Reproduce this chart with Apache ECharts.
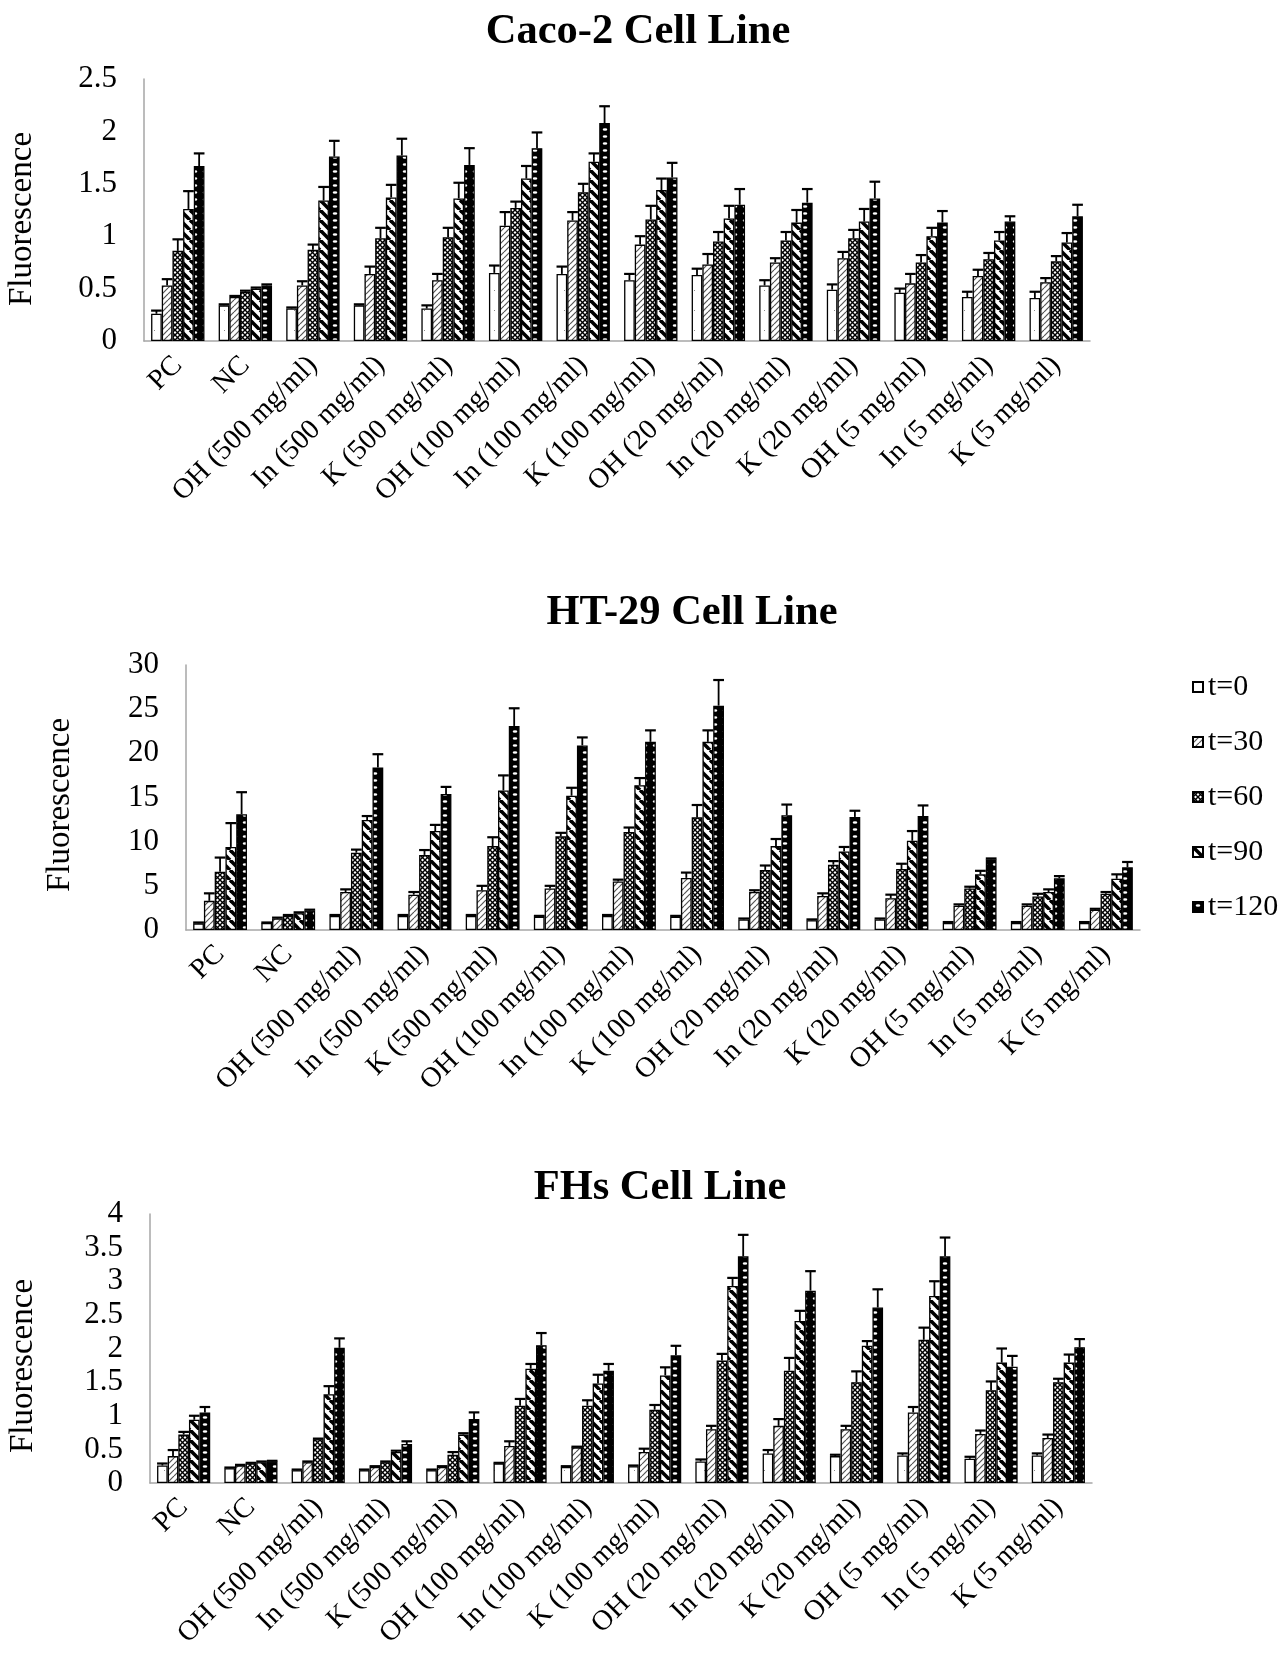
<!DOCTYPE html>
<html>
<head>
<meta charset="utf-8">
<script src="https://cdn.jsdelivr.net/npm/echarts@6/dist/echarts.min.js"></script>
<style>
  html, body { margin: 0; padding: 0; background: #fff; }
  #main { width: 1287px; height: 1656px; }
</style>
</head>
<body>
<div id="main"></div>
<script>
var categories = ['PC', 'NC', 'OH (500 mg/ml)', 'In (500 mg/ml)', 'K (500 mg/ml)', 'OH (100 mg/ml)',
    'In (100 mg/ml)', 'K (100 mg/ml)', 'OH (20 mg/ml)', 'In (20 mg/ml)', 'K (20 mg/ml)',
    'OH (5 mg/ml)', 'In (5 mg/ml)', 'K (5 mg/ml)'];
var times = ['t=0', 't=30', 't=60', 't=90', 't=120'];

// Caco-2: one row per time point
var cacoMean = [
    [0.26, 0.34, 0.31, 0.34, 0.31, 0.65, 0.64, 0.58, 0.63, 0.53, 0.49, 0.46, 0.42, 0.41],
    [0.53, 0.42, 0.53, 0.64, 0.58, 1.10, 1.15, 0.92, 0.73, 0.75, 0.79, 0.55, 0.62, 0.56],
    [0.86, 0.47, 0.87, 0.98, 0.99, 1.27, 1.42, 1.16, 0.95, 0.96, 0.98, 0.75, 0.78, 0.76],
    [1.26, 0.50, 1.34, 1.37, 1.36, 1.55, 1.71, 1.44, 1.17, 1.13, 1.14, 1.00, 0.96, 0.94],
    [1.67, 0.53, 1.76, 1.77, 1.68, 1.84, 2.08, 1.56, 1.30, 1.32, 1.36, 1.13, 1.14, 1.19]
];
var cacoErr = [
    [0.03, 0.01, 0.01, 0.01, 0.03, 0.07, 0.07, 0.06, 0.06, 0.05, 0.05, 0.04, 0.05, 0.06],
    [0.06, 0.01, 0.04, 0.07, 0.06, 0.13, 0.08, 0.08, 0.10, 0.04, 0.06, 0.09, 0.06, 0.04],
    [0.11, 0.01, 0.05, 0.10, 0.09, 0.06, 0.08, 0.13, 0.09, 0.08, 0.08, 0.07, 0.06, 0.05],
    [0.17, 0.01, 0.13, 0.12, 0.15, 0.12, 0.08, 0.11, 0.12, 0.12, 0.12, 0.08, 0.08, 0.09],
    [0.12, 0.01, 0.15, 0.16, 0.16, 0.15, 0.16, 0.14, 0.15, 0.13, 0.16, 0.11, 0.05, 0.11]
];

// HT-29
var htMean = [
    [0.75, 0.8, 1.6, 1.6, 1.6, 1.5, 1.6, 1.5, 1.2, 1.1, 1.2, 0.8, 0.8, 0.8],
    [3.3, 1.3, 4.3, 4.0, 4.5, 4.7, 5.5, 5.9, 4.3, 3.85, 3.6, 2.75, 2.75, 2.3],
    [6.6, 1.6, 8.75, 8.5, 9.5, 10.6, 11.1, 12.75, 6.8, 7.4, 6.9, 4.7, 3.8, 4.1],
    [9.4, 1.9, 12.45, 11.2, 15.8, 15.2, 16.4, 21.3, 9.5, 8.9, 10.1, 6.3, 4.3, 5.8],
    [13.1, 2.2, 18.4, 15.4, 23.1, 20.9, 21.3, 25.4, 13.0, 12.8, 12.9, 8.0, 5.85, 7.1]
];
var htErr = [
    [0.1, 0.05, 0.1, 0.1, 0.1, 0.1, 0.1, 0.1, 0.1, 0.1, 0.1, 0.1, 0.1, 0.1],
    [0.85, 0.1, 0.3, 0.3, 0.5, 0.3, 0.2, 0.6, 0.2, 0.3, 0.4, 0.15, 0.15, 0.1],
    [1.6, 0.1, 0.35, 0.55, 1.0, 0.4, 0.5, 1.4, 0.5, 0.4, 0.6, 0.2, 0.3, 0.2],
    [2.7, 0.1, 0.45, 0.7, 1.7, 0.9, 0.8, 1.3, 0.8, 0.5, 1.1, 0.4, 0.3, 0.5],
    [2.5, 0.1, 1.5, 0.8, 2.0, 0.9, 1.3, 2.9, 1.2, 0.7, 1.2, 0.1, 0.25, 0.6]
];

// FHs
var fhsMean = [
    [0.26, 0.22, 0.19, 0.19, 0.19, 0.29, 0.24, 0.25, 0.32, 0.44, 0.40, 0.41, 0.36, 0.41],
    [0.40, 0.26, 0.31, 0.24, 0.24, 0.55, 0.53, 0.46, 0.80, 0.85, 0.80, 1.05, 0.73, 0.67],
    [0.72, 0.29, 0.65, 0.31, 0.42, 1.15, 1.15, 1.09, 1.82, 1.67, 1.50, 2.13, 1.38, 1.50],
    [0.94, 0.31, 1.32, 0.46, 0.72, 1.70, 1.48, 1.60, 2.93, 2.41, 2.04, 2.78, 1.79, 1.79],
    [1.05, 0.32, 2.01, 0.58, 0.95, 2.05, 1.67, 1.90, 3.37, 2.86, 2.61, 3.37, 1.73, 2.02]
];
var fhsErr = [
    [0.03, 0.01, 0.01, 0.01, 0.01, 0.01, 0.01, 0.01, 0.03, 0.05, 0.02, 0.03, 0.03, 0.03],
    [0.09, 0.01, 0.01, 0.01, 0.01, 0.07, 0.01, 0.05, 0.05, 0.10, 0.05, 0.08, 0.05, 0.05],
    [0.04, 0.01, 0.01, 0.01, 0.04, 0.10, 0.08, 0.07, 0.10, 0.19, 0.16, 0.18, 0.13, 0.05],
    [0.06, 0.01, 0.12, 0.02, 0.02, 0.07, 0.13, 0.12, 0.12, 0.15, 0.07, 0.22, 0.21, 0.12],
    [0.08, 0.01, 0.14, 0.04, 0.10, 0.18, 0.10, 0.14, 0.32, 0.29, 0.27, 0.28, 0.16, 0.12]
];

var FONT = 'Liberation Serif';
var GAP = 0.21; // bar category gap

// black & white fill patterns, one per time point
function makePattern(w, h, draw) {
    var c = document.createElement('canvas');
    c.width = w; c.height = h;
    var ctx = c.getContext('2d');
    ctx.fillStyle = '#fff';
    ctx.fillRect(0, 0, w, h);
    draw(ctx);
    return { image: c, repeat: 'repeat' };
}
var patterns = [
    makePattern(10, 20, function (ctx) {
        ctx.fillStyle = '#888';
        ctx.fillRect(4, 10, 1, 1);
    }),
    makePattern(6, 6, function (ctx) {
        ctx.strokeStyle = '#555';
        ctx.lineWidth = 1.2;
        for (var k = -6; k <= 6; k += 6) {
            ctx.beginPath(); ctx.moveTo(k, 6); ctx.lineTo(k + 6, 0); ctx.stroke();
        }
    }),
    makePattern(5, 5, function (ctx) {
        ctx.strokeStyle = '#000';
        ctx.lineWidth = 1.4;
        for (var k = -5; k <= 5; k += 5) {
            ctx.beginPath(); ctx.moveTo(k, 0); ctx.lineTo(k + 5, 5); ctx.stroke();
            ctx.beginPath(); ctx.moveTo(k, 5); ctx.lineTo(k + 5, 0); ctx.stroke();
        }
    }),
    makePattern(10, 10, function (ctx) {
        ctx.strokeStyle = '#000';
        ctx.lineWidth = 3.6;
        for (var k = -10; k <= 10; k += 10) {
            ctx.beginPath(); ctx.moveTo(k, 0); ctx.lineTo(k + 10, 10); ctx.stroke();
        }
    }),
    makePattern(10, 7, function (ctx) {
        ctx.fillStyle = '#000';
        ctx.fillRect(0, 0, 10, 7);
        ctx.fillStyle = '#fff';
        ctx.beginPath(); ctx.ellipse(5, 3.5, 2.3, 1.3, 0, 0, Math.PI * 2); ctx.fill();
    })
];

var panels = [
    { title: 'Caco-2 Cell Line', tx: 633, ty: 27, mean: cacoMean, err: cacoErr, max: 2.5, step: 0.5,
      left: 144, right: 1090, top: 79, bottom: 341, nameX: 22, nameY: 219 },
    { title: 'HT-29 Cell Line', tx: 687, ty: 608, mean: htMean, err: htErr, max: 30, step: 5,
      left: 186, right: 1140, top: 665, bottom: 930, nameX: 60, nameY: 805 },
    { title: 'FHs Cell Line', tx: 655, ty: 1183, mean: fhsMean, err: fhsErr, max: 4, step: 0.5,
      left: 150, right: 1092, top: 1214, bottom: 1483, nameX: 23, nameY: 1366 }
];

function renderError(params, api) {
    var cat = api.value(0), ti = api.value(1), v = api.value(2), e = api.value(3);
    var band = api.size([1, 0])[0];
    var group = band * (1 - GAP);
    var bw = group / 5;
    var p0 = api.coord([cat, v]);
    var p1 = api.coord([cat, v + e]);
    var x = p0[0] - group / 2 + bw * (ti + 0.5);
    var st = { stroke: '#000', lineWidth: 1.8 };
    return {
        type: 'group',
        children: [
            { type: 'line', shape: { x1: x, y1: p0[1], x2: x, y2: p1[1] }, style: st },
            { type: 'line', shape: { x1: x - bw * 0.5, y1: p1[1], x2: x + bw * 0.5, y2: p1[1] },
              style: { stroke: '#000', lineWidth: 2.2 } }
        ]
    };
}

var grids = [], xAxes = [], yAxes = [], series = [], titles = [], graphics = [];
panels.forEach(function (p, gi) {
    titles.push({
        text: p.title, left: p.tx, top: p.ty, textAlign: 'center', textVerticalAlign: 'middle',
        textStyle: { fontFamily: FONT, fontWeight: 'bold', fontSize: 42.5, color: '#000' }
    });
    grids.push({ left: p.left, width: p.right - p.left, top: p.top, height: p.bottom - p.top });
    xAxes.push({
        type: 'category', gridIndex: gi, data: categories,
        axisLine: { lineStyle: { color: '#a6a6a6', width: 1.5 } },
        axisTick: { show: false },
        axisLabel: { interval: 0, rotate: 45, margin: 20, fontFamily: FONT, fontSize: 28.5, color: '#000' }
    });
    yAxes.push({
        type: 'value', gridIndex: gi, min: 0, max: p.max, interval: p.step,
        axisLine: { show: true, lineStyle: { color: '#a6a6a6', width: 1.5 } },
        axisTick: { show: false },
        splitLine: { show: false },
        axisLabel: { margin: 27, fontFamily: FONT, fontSize: 31, color: '#000' }
    });
    graphics.push({
        type: 'text', x: p.nameX, y: p.nameY, rotation: Math.PI / 2,
        style: { text: 'Fluorescence', fontFamily: FONT, fontSize: 33, fill: '#000',
                 align: 'center', verticalAlign: 'middle' }
    });
    var errData = [];
    times.forEach(function (t, ti) {
        series.push({
            name: t, type: 'bar', xAxisIndex: gi, yAxisIndex: gi,
            data: p.mean[ti],
            barGap: '0%', barCategoryGap: (GAP * 100) + '%',
            itemStyle: { color: patterns[ti], borderColor: '#000', borderWidth: 1.3 },
            animation: false
        });
        p.mean[ti].forEach(function (v, ci) {
            errData.push([ci, ti, v, p.err[ti][ci]]);
        });
    });
    series.push({
        type: 'custom', xAxisIndex: gi, yAxisIndex: gi, z: 5,
        renderItem: renderError, data: errData, encode: { x: 0, y: 2 },
        animation: false, silent: true
    });
});

var chart = echarts.init(document.getElementById('main'));
chart.setOption({
    backgroundColor: '#fff',
    animation: false,
    title: titles,
    grid: grids,
    xAxis: xAxes,
    yAxis: yAxes,
    legend: {
        data: times, orient: 'vertical', left: 1187, top: 667,
        itemWidth: 10, itemHeight: 10, itemGap: 25, icon: 'rect',
        textStyle: { fontFamily: FONT, fontSize: 30, color: '#000' }
    },
    graphic: graphics,
    series: series
});
</script>
</body>
</html>
